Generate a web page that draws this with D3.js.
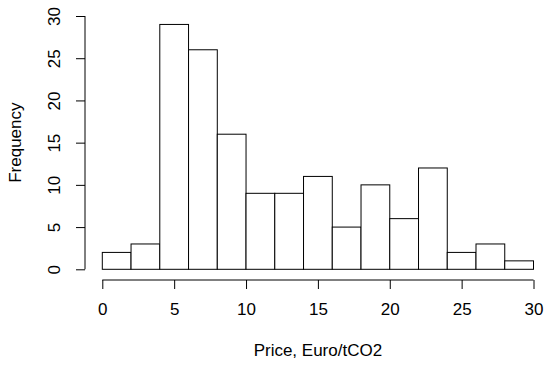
<!DOCTYPE html>
<html>
<head>
<meta charset="utf-8">
<script src="https://cdn.jsdelivr.net/npm/d3@7"></script>
<style>
  body { margin: 0; background: #fff; }
  text { font-family: "Liberation Sans", Arial, sans-serif; fill: #000; }
</style>
</head>
<body>
<div id="chart"></div>
<script>
// histogram bins (price, Euro/tCO2) and their counts
const binEdges = [0, 2, 4, 6, 8, 10, 12, 14, 16, 18, 20, 22, 24, 26, 28, 30];
const counts = [2, 3, 29, 26, 16, 9, 9, 11, 5, 10, 6, 12, 2, 3, 1];
const xTicks = [0, 5, 10, 15, 20, 25, 30];
const yTicks = [0, 5, 10, 15, 20, 25, 30];

const width = 550, height = 366;
const fontSize = 17;

const bins = counts.map((c, i) => ({ x0: binEdges[i], x1: binEdges[i + 1], count: c }));

const svg = d3.select('#chart')
    .append('svg')
    .attr('width', width)
    .attr('height', height);

const x = d3.scaleLinear().domain([0, 30]).range([102.3, 533.5]);
const y = d3.scaleLinear().domain([0, 30]).range([269.3, 16]);

// bars
svg.append('g')
    .selectAll('rect')
    .data(bins)
    .enter()
    .append('rect')
    .attr('x', d => x(d.x0))
    .attr('y', d => y(d.count))
    .attr('width', d => x(d.x1) - x(d.x0))
    .attr('height', d => y(0) - y(d.count))
    .attr('fill', '#fff')
    .attr('stroke', '#000')
    .attr('stroke-width', 1);

// x axis (R style, detached below the bars)
const xAxis = svg.append('g')
    .attr('transform', 'translate(0,280)')
    .call(d3.axisBottom(x).tickValues(xTicks).tickSize(9).tickPadding(14).tickSizeOuter(0));
xAxis.select('.domain').attr('d', `M${x(0)},0H${x(30)}`).attr('stroke-width', 1);
xAxis.selectAll('text').attr('font-size', fontSize).attr('font-family', '"Liberation Sans", Arial, sans-serif');

// y axis
const yAxis = svg.append('g')
    .attr('transform', 'translate(85,0)')
    .call(d3.axisLeft(y).tickValues(yTicks).tickSize(9).tickSizeOuter(0));
yAxis.select('.domain').attr('d', `M0,${y(0)}V${y(30)}`);
yAxis.selectAll('text')
    .attr('font-size', fontSize)
    .attr('font-family', '"Liberation Sans", Arial, sans-serif')
    .attr('text-anchor', 'middle')
    .attr('x', 0)
    .attr('y', 0)
    .attr('dy', '0.35em')
    .attr('transform', 'translate(-31,0) rotate(-90)');

// axis titles
svg.append('text')
    .attr('x', (x(0) + x(30)) / 2)
    .attr('y', 356)
    .attr('text-anchor', 'middle')
    .attr('font-size', fontSize)
    .text('Price, Euro/tCO2');

svg.append('text')
    .attr('transform', `translate(21,${(y(0) + y(30)) / 2}) rotate(-90)`)
    .attr('text-anchor', 'middle')
    .attr('font-size', fontSize)
    .text('Frequency');
</script>
</body>
</html>
